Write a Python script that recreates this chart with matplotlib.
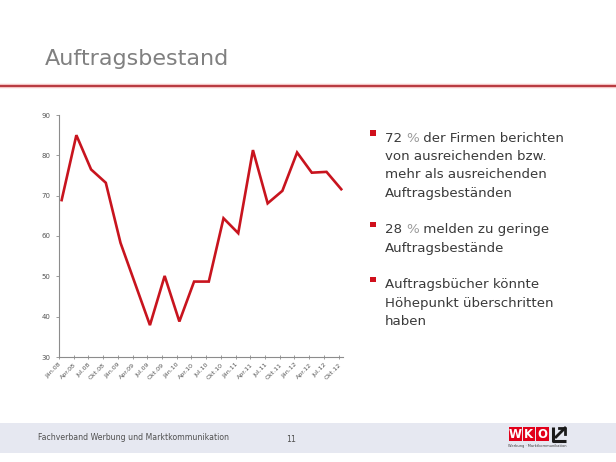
import matplotlib
matplotlib.use("Agg")
import matplotlib.pyplot as plt
from matplotlib.patches import Rectangle
from matplotlib.lines import Line2D

# ---- data ----
quarters = ["Jän.08", "Apr.08", "Jul.08", "Okt.08",
            "Jän.09", "Apr.09", "Jul.09", "Okt.09",
            "Jän.10", "Apr.10", "Jul.10", "Okt.10",
            "Jän.11", "Apr.11", "Jul.11", "Okt.11",
            "Jän.12", "Apr.12", "Jul.12", "Okt.12"]
values = [68.9, 85.0, 76.5, 73.2,
          58.3, 48.1, 37.9, 50.1,
          38.8, 48.7, 48.7, 64.4,
          60.7, 81.3, 68.1, 71.2,
          80.7, 75.7, 75.9, 71.6]
y_ticks = [30, 40, 50, 60, 70, 80, 90]

title = "Auftragsbestand"
bullets = [
    ["72 % der Firmen berichten", "von ausreichenden bzw.",
     "mehr als ausreichenden", "Auftragsbeständen"],
    ["28 % melden zu geringe", "Auftragsbestände"],
    ["Auftragsbücher könnte", "Höhepunkt überschritten", "haben"],
]
footer_text = "Fachverband Werbung und Marktkommunikation"
page_no = "11"

W, H = 616, 462
fig = plt.figure(figsize=(W / 100, H / 100), dpi=100)
fig.patch.set_facecolor("white")


def fx(x):
    return x / W


def fy(y):
    return 1 - y / H


# ---- chart ----
ax = fig.add_axes([fx(59), fy(357), fx(343) - fx(59), fy(115) - fy(357)])
xs = list(range(len(values)))
ax.plot(xs, values, color="#c8141e", lw=1.9, solid_joinstyle="miter")
ax.set_xlim(-0.18, len(values) - 1 + 0.12)
ax.set_ylim(30, 90)
ax.set_yticks(y_ticks)
ax.set_yticklabels([str(v) for v in y_ticks])
ax.set_xticks([i - 0.18 for i in xs])
ax.set_xticklabels(quarters, rotation=45, ha="right", va="top",
                   rotation_mode="anchor")
for s in ["top", "right"]:
    ax.spines[s].set_visible(False)
for s in ["left", "bottom"]:
    ax.spines[s].set_color("#8c8c8c")
    ax.spines[s].set_linewidth(0.8)
ax.tick_params(axis="y", length=2, width=0.6, colors="#8c8c8c",
               labelcolor="#555555", labelsize=5, pad=4)
ax.tick_params(axis="x", length=3, width=0.6, colors="#8c8c8c",
               direction="inout", labelcolor="#555555", labelsize=4.5, pad=2)

# ---- title & header line ----
fig.text(fx(45), fy(65), title, fontsize=16, color="#808080",
         ha="left", va="baseline", family="DejaVu Sans")
fig.add_artist(Line2D([0, 1], [fy(86), fy(86)], color="#f4c2c2", lw=3.2))
fig.add_artist(Line2D([0, 1], [fy(86), fy(86)], color="#a8141c", lw=1.1))

# ---- bullets ----
txt_color = "#3a3a3a"
bullet_first_baselines = [141.7, 233.3, 288.3]
line_gap = 18.4
fs = 9.6
for bi, lines in enumerate(bullets):
    y0 = bullet_first_baselines[bi]
    fig.add_artist(Rectangle((fx(370), fy(135.5 + (y0 - 141.7))),
                             5.5 / W, 5.5 / H, transform=fig.transFigure,
                             color="#d0101c", lw=0))
    for li, line in enumerate(lines):
        yy = fy(y0 + li * line_gap)
        if li == 0 and "%" in line:
            head, tail = line.split("%", 1)
            t1 = fig.text(fx(385), yy, head, fontsize=fs, color=txt_color,
                          ha="left", va="baseline")
            t2 = fig.text(0, 0, "%", fontsize=fs, color="#9a9a9a")
            t2.set_position((0, 0))
            a2 = plt.annotate("%", xy=(1, 0), xycoords=t1, fontsize=fs,
                              color="#9a9a9a", ha="left", va="bottom",
                              annotation_clip=False)
            t2.remove()
            plt.annotate(tail, xy=(1, 0), xycoords=a2, fontsize=fs,
                         color=txt_color, ha="left", va="bottom",
                         annotation_clip=False)
        else:
            fig.text(fx(385), yy, line, fontsize=fs, color=txt_color,
                     ha="left", va="baseline")

# ---- footer ----
fig.add_artist(Rectangle((0, fy(453)), 1, (453 - 423) / H,
                         transform=fig.transFigure, color="#e6e8f1", lw=0))
fig.text(fx(38), fy(438), footer_text, fontsize=5.6, color="#505050",
         ha="left", va="center")
fig.text(fx(291), fy(440), page_no, fontsize=5.6, color="#505050",
         ha="center", va="center")

# WKO logo
for i, letter in enumerate(["W", "K", "O"]):
    x0 = 509 + i * 13.5
    fig.add_artist(Rectangle((fx(x0), fy(441)), 12.5 / W, 14 / H,
                             transform=fig.transFigure, color="#e2001a", lw=0))
    fig.text(fx(x0 + 6.25), fy(434), letter, fontsize=8.5, color="white",
             fontweight="bold", ha="center", va="center")
# arrow box
fig.add_artist(Line2D([fx(552.5), fx(552.5), fx(566)],
                      [fy(427), fy(440.5), fy(440.5)], color="#1a1a1a",
                      lw=2.2, solid_capstyle="butt", transform=fig.transFigure))
fig.add_artist(Line2D([fx(556), fx(565)], [fy(437), fy(428)], color="#1a1a1a",
                      lw=2.0, transform=fig.transFigure))
fig.add_artist(Line2D([fx(559), fx(565), fx(565)],
                      [fy(428), fy(428), fy(434)], color="#1a1a1a",
                      lw=2.0, transform=fig.transFigure))
fig.text(fx(537), fy(446.5), "Werbung · Marktkommunikation", fontsize=2.6,
         color="#404040", ha="center", va="center")

fig.savefig("out.png", dpi=100)
